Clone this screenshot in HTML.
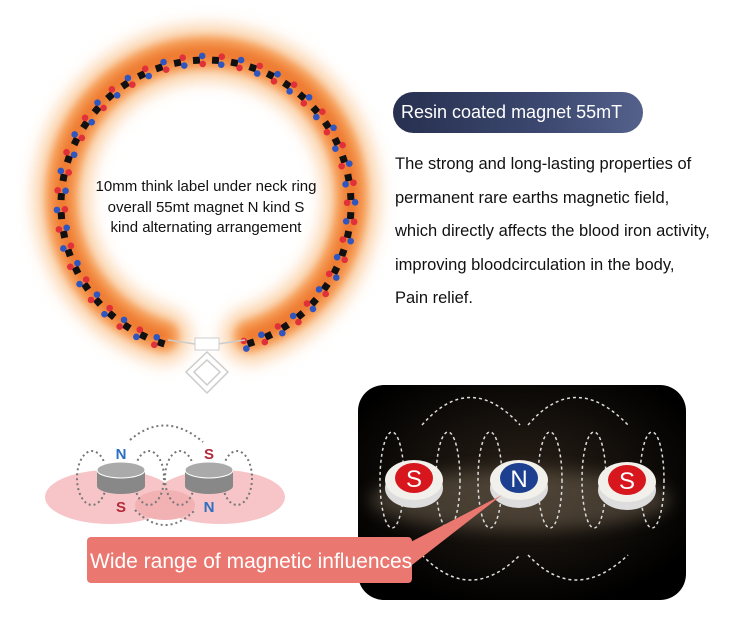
<!DOCTYPE html>
<html><head><meta charset="utf-8"><style>
body{margin:0;width:750px;height:642px;background:#fff;overflow:hidden;position:relative;font-family:"Liberation Sans",sans-serif}
.pill{position:absolute;left:393px;top:92px;width:250px;height:41px;border-radius:21px;background:linear-gradient(90deg,#27304f,#3c4870 60%,#54618a);color:#fff;font-size:18px;line-height:41px;padding-left:8px;box-sizing:border-box}
.para{position:absolute;left:395px;top:148px;font-size:16.5px;line-height:33.5px;color:#111}
.lab{position:absolute;left:66px;top:177px;width:280px;text-align:center;font-size:15px;line-height:20.5px;color:#111}
</style></head><body>
<svg width="750" height="642" style="position:absolute;left:0;top:0">
<defs>
<filter id="bl" x="-30%" y="-30%" width="160%" height="160%"><feGaussianBlur stdDeviation="8"/></filter>
<filter id="bl2" x="-30%" y="-30%" width="160%" height="160%"><feGaussianBlur stdDeviation="4"/></filter>
<radialGradient id="bg" cx="50%" cy="45%" r="60%"><stop offset="0" stop-color="#2a2118"/><stop offset="1" stop-color="#000"/></radialGradient>
</defs>
<g id="ring">
<path d="M163 336 A145 145 0 1 1 250 336" fill="none" stroke="#fbd3ac" stroke-width="56" stroke-linecap="round" filter="url(#bl)"/>
<path d="M163 336 A145 145 0 1 1 250 336" fill="none" stroke="#f59a52" stroke-width="32" stroke-linecap="round" filter="url(#bl2)"/>
<path d="M163 336 A145 145 0 1 1 250 336" fill="none" stroke="#ee7a30" stroke-width="14" stroke-linecap="round" filter="url(#bl2)"/>
</g>
<g id="beads"></g>
<path d="M168 340 L195 344 L218 344 L245 340" fill="none" stroke="#ccc" stroke-width="1.5"/>
<rect x="195" y="338" width="24" height="12" fill="#fff" stroke="#ccc"/>
<path d="M207 352 L228 372 L207 393 L186 372Z M207 360 L220 372 L207 385 L194 372Z" fill="none" stroke="#ccc" stroke-width="1.5"/>
<ellipse cx="110" cy="497" rx="65" ry="27" fill="#f7c5c7"/>
<ellipse cx="220" cy="497" rx="65" ry="27" fill="#f7c5c7"/>
<ellipse cx="165" cy="505" rx="30" ry="15" fill="#f2b1b3"/>
<g fill="none" stroke="#777" stroke-width="2" stroke-dasharray="2 3">
<ellipse cx="92" cy="478" rx="15" ry="27"/><ellipse cx="149" cy="478" rx="15" ry="27"/>
<ellipse cx="180" cy="478" rx="15" ry="27"/><ellipse cx="237" cy="478" rx="15" ry="27"/>
<path d="M130 440 Q165 410 203 442"/><path d="M135 510 Q165 540 195 510"/>
</g>
<g><rect x="97" y="470" width="48" height="16" fill="#888"/><ellipse cx="121" cy="486" rx="24" ry="8" fill="#888"/><ellipse cx="121" cy="470" rx="24" ry="8" fill="#aaa" stroke="#fff"/></g>
<g><rect x="185" y="470" width="48" height="16" fill="#888"/><ellipse cx="209" cy="486" rx="24" ry="8" fill="#888"/><ellipse cx="209" cy="470" rx="24" ry="8" fill="#aaa" stroke="#fff"/></g>
<text x="121" y="459" font-size="15" font-weight="bold" fill="#2a6fc0" text-anchor="middle" font-family="Liberation Sans">N</text>
<text x="121" y="512" font-size="15" font-weight="bold" fill="#b42a3a" text-anchor="middle" font-family="Liberation Sans">S</text>
<text x="209" y="459" font-size="15" font-weight="bold" fill="#b42a3a" text-anchor="middle" font-family="Liberation Sans">S</text>
<text x="209" y="512" font-size="15" font-weight="bold" fill="#2a6fc0" text-anchor="middle" font-family="Liberation Sans">N</text>
<rect x="358" y="385" width="328" height="215" rx="26" fill="url(#bg)"/>
<ellipse cx="520" cy="500" rx="150" ry="30" fill="#6d6050" opacity="0.55" filter="url(#bl)"/>
<g fill="none" stroke="#ddd" stroke-width="1.5" stroke-dasharray="3 3">
<path d="M422 425 Q470 370 520 425"/><path d="M528 425 Q575 370 628 425"/>
<path d="M422 555 Q470 605 520 555"/><path d="M528 555 Q575 605 628 555"/>
<ellipse cx="392" cy="480" rx="12" ry="48"/><ellipse cx="448" cy="480" rx="12" ry="48"/>
<ellipse cx="490" cy="480" rx="12" ry="48"/><ellipse cx="550" cy="480" rx="12" ry="48"/>
<ellipse cx="594" cy="480" rx="12" ry="48"/><ellipse cx="652" cy="480" rx="12" ry="48"/>
</g>
<g font-family="Liberation Sans" font-size="24" fill="#fff" text-anchor="middle">
<ellipse cx="414" cy="488" rx="29" ry="20" fill="#ddd"/><ellipse cx="414" cy="480" rx="29" ry="20" fill="#f2f0ea"/><ellipse cx="414" cy="478" rx="19" ry="15" fill="#d7161e"/><text x="414" y="487">S</text>
<ellipse cx="519" cy="488" rx="29" ry="20" fill="#ddd"/><ellipse cx="519" cy="480" rx="29" ry="20" fill="#f2f0ea"/><ellipse cx="519" cy="478" rx="19" ry="15" fill="#1c3f8f"/><text x="519" y="487">N</text>
<ellipse cx="627" cy="490" rx="29" ry="20" fill="#ddd"/><ellipse cx="627" cy="482" rx="29" ry="20" fill="#f2f0ea"/><ellipse cx="627" cy="480" rx="19" ry="15" fill="#d7161e"/><text x="627" y="489">S</text>
</g>
<path d="M395 550 L502 495 L412 565Z" fill="#ea7770"/>
<rect x="87" y="537" width="325" height="46" rx="4" fill="#ea7770"/>
<text x="90" y="568" font-size="21" fill="#fff" font-family="Liberation Sans">Wide range of magnetic influences</text>
</svg>
<div class="lab">10mm think label under neck ring<br>overall 55mt magnet N kind S<br>kind alternating arrangement</div>
<div class="pill">Resin coated magnet 55mT</div>
<div class="para">The strong and long-lasting properties of<br>permanent rare earths magnetic field,<br>which directly affects the blood iron activity,<br>improving bloodcirculation in the body,<br>Pain relief.</div>
<script>
var g=document.getElementById('beads'),s='',cx=206,cy=205,R=145,n=44;
for(var i=0;i<n;i++){var a=(108+i*(324/(n-1)))*Math.PI/180;var x=cx+R*Math.cos(a),y=cy+R*Math.sin(a);
var tx=-Math.sin(a),ty=Math.cos(a),nx=Math.cos(a),ny=Math.sin(a);
s+='<rect x="'+(x-3.5)+'" y="'+(y-3.5)+'" width="7" height="7" fill="#111" transform="rotate('+(a*180/Math.PI)+' '+x+' '+y+')"/>';
var f=i%2?1:-1;var bx=x+tx*6,by=y+ty*6;
s+='<circle cx="'+(bx+nx*4*f)+'" cy="'+(by+ny*4*f)+'" r="3.3" fill="#2f55c0"/><circle cx="'+(bx-nx*4*f)+'" cy="'+(by-ny*4*f)+'" r="3.3" fill="#e0303a"/>';}
g.innerHTML=s;
</script>
</body></html>
